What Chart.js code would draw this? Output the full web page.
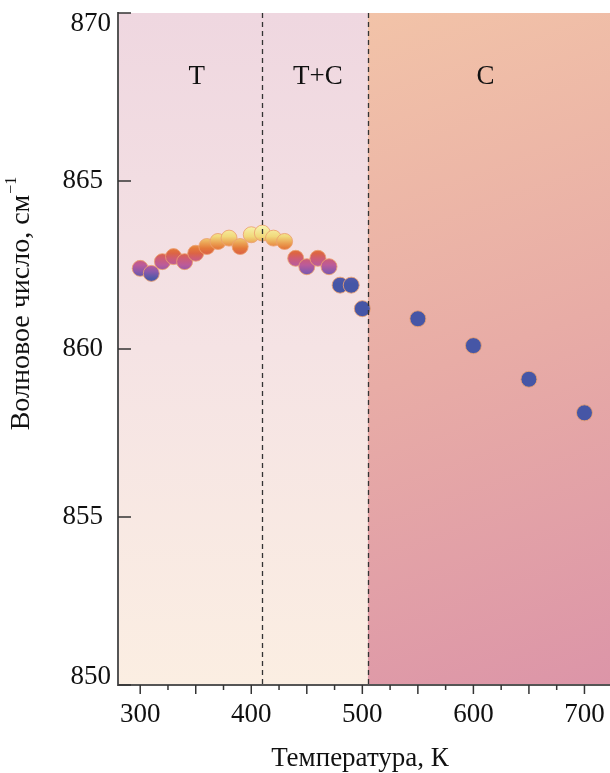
<!DOCTYPE html>
<html>
<head>
<meta charset="utf-8">
<script src="https://cdn.jsdelivr.net/npm/chart.js@4"></script>
<style>
  html, body { margin: 0; padding: 0; background: #fff; overflow: hidden; }
  #wrap { width: 610px; height: 773px; position: relative; }
</style>
</head>
<body>
<div id="wrap"><canvas id="ramanChart"></canvas></div>
<script>
const temperatures = [300, 310, 320, 330, 340, 350, 360, 370, 380, 390, 400, 410, 420, 430,
  440, 450, 460, 470, 480, 490, 500, 550, 600, 650, 700];
const wavenumbers = [862.4, 862.25, 862.6, 862.75, 862.6, 862.85, 863.05, 863.2, 863.3, 863.05,
  863.4, 863.45, 863.3, 863.2, 862.7, 862.45, 862.7, 862.45, 861.9, 861.9, 861.2, 860.9,
  860.1, 859.1, 858.1];

const xTickValues = [300, 400, 500, 600, 700];
const yTickValues = [850, 855, 860, 865, 870];
const phaseBounds = [410, 505];
const phaseNames = ["T", "T+C", "C"];
const phaseNameX = [351, 460, 611];

const FONT = "'Liberation Serif', 'Times New Roman', serif";

// plasma-like colours along the wavenumber axis
const markerStops = [
  [863.65, "#f7f3ad"],
  [863.35, "#f1d97c"],
  [863.15, "#eba153"],
  [863.0, "#e47a3a"],
  [862.85, "#dc6444"],
  [862.7, "#cf5d72"],
  [862.5, "#bb5b9a"],
  [862.3, "#8a59ab"],
  [862.1, "#5058a8"],
  [861.95, "#4656a6"]
];

let gradCache = null;
function markerFill(ctx) {
  const chart = ctx.chart;
  const ys = chart.scales.y;
  if (!chart.chartArea || !ys) return "#4656a6";
  const y0 = ys.getPixelForValue(markerStops[0][0]);
  const y1 = ys.getPixelForValue(markerStops[markerStops.length - 1][0]);
  if (gradCache && gradCache.y0 === y0) return gradCache.g;
  const g = chart.ctx.createLinearGradient(0, y0, 0, y1);
  markerStops.forEach(([v, c]) => {
    g.addColorStop((ys.getPixelForValue(v) - y0) / (y1 - y0), c);
  });
  gradCache = { y0, g };
  return g;
}

function noPad(s) {
  s.paddingLeft = 0;
  s.paddingRight = 0;
  s.paddingTop = 0;
  s.paddingBottom = 0;
}

const framePlugin = {
  id: "frame",
  beforeDraw(chart) {
    const { ctx, chartArea: a, scales } = chart;
    const xb = scales.x.getPixelForValue(phaseBounds[1]);
    ctx.save();
    // T and T+C background
    let g = ctx.createLinearGradient(0, a.top, 0, a.bottom);
    g.addColorStop(0, "#efd7e0");
    g.addColorStop(0.5, "#f5e3e4");
    g.addColorStop(1, "#fbeee2");
    ctx.fillStyle = g;
    ctx.fillRect(a.left, a.top, xb - a.left, a.bottom - a.top);
    // C background
    g = ctx.createLinearGradient(xb, a.top, a.right, a.bottom);
    g.addColorStop(0, "#f2c3a8");
    g.addColorStop(0.5, "#e8aca6");
    g.addColorStop(1, "#dc95a8");
    ctx.fillStyle = g;
    ctx.fillRect(xb, a.top, a.right - xb, a.bottom - a.top);
    ctx.restore();
  },
  afterDatasetsDraw(chart) {
    const { ctx, chartArea: a, scales } = chart;
    ctx.save();
    ctx.strokeStyle = "#333";
    ctx.lineWidth = 1.3;
    ctx.setLineDash([5, 4]);
    phaseBounds.forEach(v => {
      const x = Math.round(scales.x.getPixelForValue(v)) + 0.5;
      ctx.beginPath();
      ctx.moveTo(x, a.top);
      ctx.lineTo(x, a.bottom);
      ctx.stroke();
    });
    ctx.setLineDash([]);
    ctx.fillStyle = "#111";
    ctx.font = "27px " + FONT;
    ctx.textAlign = "center";
    ctx.textBaseline = "middle";
    phaseNames.forEach((t, i) => {
      ctx.fillText(t, scales.x.getPixelForValue(phaseNameX[i]), scales.y.getPixelForValue(868.1));
    });
    ctx.restore();
  },
  afterDraw(chart) {
    const { ctx, chartArea: a, scales } = chart;
    ctx.save();
    ctx.strokeStyle = "#333";
    ctx.lineWidth = 1.5;
    // x ticks: long every 50, short every 25
    for (let v = 300; v <= 700; v += 25) {
      const x = scales.x.getPixelForValue(v);
      const len = v % 50 === 0 ? 9 : 5;
      ctx.beginPath();
      ctx.moveTo(x, a.bottom);
      ctx.lineTo(x, a.bottom + len);
      ctx.stroke();
    }
    // y ticks point inward
    yTickValues.forEach(v => {
      const y = scales.y.getPixelForValue(v);
      ctx.beginPath();
      ctx.moveTo(a.left, y);
      ctx.lineTo(a.left + 13, y);
      ctx.stroke();
    });
    // end labels on y sit inside the frame
    ctx.fillStyle = "#111";
    ctx.font = "27px " + FONT;
    ctx.textAlign = "right";
    ctx.textBaseline = "middle";
    ctx.fillText("870", a.left - 7, scales.y.getPixelForValue(870) + 11);
    ctx.fillText("850", a.left - 7, scales.y.getPixelForValue(850) - 8);
    // axis titles
    ctx.textAlign = "center";
    ctx.fillText("Температура, К", (a.left + a.right) / 2 - 4, 759);
    ctx.translate(22, 304);
    ctx.rotate(-Math.PI / 2);
    const main = "Волновое число, см";
    ctx.font = "28px " + FONT;
    const w1 = ctx.measureText(main).width;
    ctx.font = "16px " + FONT;
    const w2 = ctx.measureText("−1").width;
    const x0 = -(w1 + w2) / 2;
    ctx.textAlign = "left";
    ctx.font = "28px " + FONT;
    ctx.fillText(main, x0, 0);
    ctx.font = "16px " + FONT;
    ctx.fillText("−1", x0 + w1 + 1, -10);
    ctx.restore();
  }
};

new Chart(document.getElementById("ramanChart"), {
  type: "scatter",
  data: {
    datasets: [{
      data: temperatures.map((t, i) => ({ x: t, y: wavenumbers[i] })),
      pointRadius: 8,
      pointHoverRadius: 8,
      backgroundColor: markerFill,
      borderColor: "rgba(236, 160, 112, 0.85)",
      borderWidth: 1
    }]
  },
  options: {
    responsive: true,
    maintainAspectRatio: false,
    animation: false,
    layout: { autoPadding: false, padding: { top: 13, right: 0, left: 0, bottom: 0 } },
    plugins: { legend: { display: false }, tooltip: { enabled: false } },
    scales: {
      x: {
        type: "linear",
        min: 280,
        max: 723,
        afterBuildTicks: s => { s.ticks = xTickValues.map(v => ({ value: v })); },
        afterFit: s => { s.height = 88; noPad(s); },
        grid: { display: false },
        border: { display: true, color: "#555", width: 2 },
        ticks: { color: "#111", font: { family: FONT, size: 27 }, padding: 6, maxRotation: 0 }
      },
      y: {
        type: "linear",
        min: 850,
        max: 870,
        afterBuildTicks: s => { s.ticks = yTickValues.map(v => ({ value: v })); },
        afterFit: s => { s.width = 118; noPad(s); },
        grid: { display: false },
        border: { display: true, color: "#555", width: 2 },
        ticks: {
          color: "#111",
          font: { family: FONT, size: 27 },
          padding: 7,
          callback: v => (v === 850 || v === 870 ? "" : v)
        }
      }
    }
  },
  plugins: [framePlugin]
});
</script>
</body>
</html>
